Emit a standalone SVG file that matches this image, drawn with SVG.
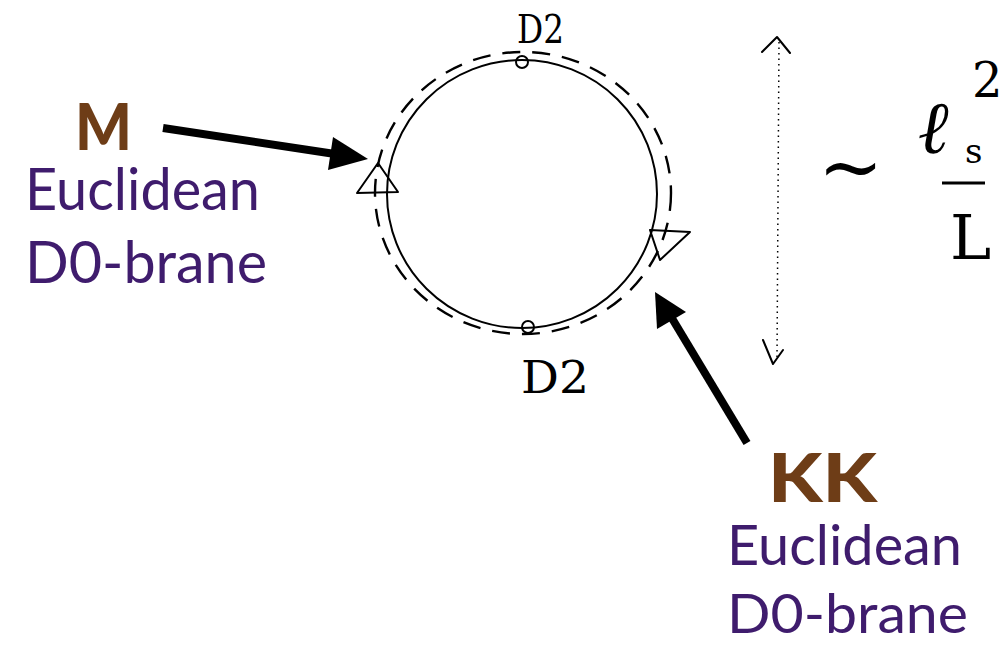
<svg xmlns="http://www.w3.org/2000/svg" width="1007" height="645" viewBox="0 0 1007 645">
<defs>
<style>
.hand{fill:none;stroke:#000;stroke-width:2;stroke-linecap:round;stroke-linejoin:round}
.dash{fill:none;stroke:#000;stroke-width:2.4;stroke-dasharray:18 12}
.hw{font-family:"DejaVu Serif",serif;fill:#000}
.lbl{font-family:"Lato","Liberation Sans",sans-serif;fill:#6E3D17;font-weight:900}
.sub{font-family:"Lato","Liberation Sans",sans-serif;fill:#3F1C6D}
.arr{stroke:#000;stroke-width:8;fill:none}
</style>
</defs>
<rect width="1007" height="645" fill="#fff"/>
<g id="loop">
<ellipse cx="523" cy="193" rx="148" ry="141" class="dash"/>
<ellipse cx="522" cy="194" rx="135" ry="134" class="hand"/>
<circle cx="522" cy="62" r="6" class="hand" fill="#888"/>
<circle cx="528" cy="327" r="6" class="hand"/>
<path d="M357,193 L398,192 L378,163 Z" class="hand"/>
<path d="M650,230 L690,232 L660,260 Z" class="hand"/>
<text x="517" y="43" class="hw" font-size="40" textLength="47" lengthAdjust="spacingAndGlyphs">D2</text>
<text x="521" y="393" class="hw" font-size="44" textLength="68" lengthAdjust="spacingAndGlyphs">D2</text>
</g>
<g id="scale">
<line x1="779" y1="42" x2="777" y2="358" stroke="#000" stroke-width="1.5" stroke-dasharray="1.5 4"/>
<path d="M762,52 L777,37 L790,53" class="hand" stroke-width="3"/>
<path d="M763,340 L773,364 L783,350" class="hand" stroke-width="3"/>
<text x="818" y="194" class="hw" font-size="78">~</text>
<text x="918" y="153" class="hw" font-size="74" font-style="italic">ℓ</text>
<text x="965" y="163" class="hw" font-size="34">s</text>
<text x="972" y="97" class="hw" font-size="48">2</text>
<line x1="942" y1="183" x2="985" y2="183" stroke="#000" stroke-width="3"/>
<text x="950" y="259" class="hw" font-size="62">L</text>
</g>
<g id="connectors">
<line x1="163" y1="128" x2="335" y2="154" class="arr"/>
<path d="M368,159 L333,137 L328,170 Z" fill="#000"/>
<line x1="747" y1="443" x2="670" y2="315" class="arr"/>
<path d="M655,292 L686,312 L657,329 Z" fill="#000"/>
</g>
<g id="label-M">
<text x="75" y="150" class="lbl" font-size="64" textLength="57" lengthAdjust="spacingAndGlyphs">M</text>
<text x="25" y="210" class="sub" font-size="58" textLength="235" lengthAdjust="spacingAndGlyphs">Euclidean</text>
<text x="25" y="283" class="sub" font-size="58" textLength="242" lengthAdjust="spacingAndGlyphs">D0-brane</text>
</g>
<g id="label-KK">
<text x="768" y="502" class="lbl" font-size="66" textLength="109" lengthAdjust="spacingAndGlyphs">KK</text>
<text x="727" y="565" class="sub" font-size="57" textLength="235" lengthAdjust="spacingAndGlyphs">Euclidean</text>
<text x="727" y="633" class="sub" font-size="55" textLength="241" lengthAdjust="spacingAndGlyphs">D0-brane</text>
</g>
</svg>
